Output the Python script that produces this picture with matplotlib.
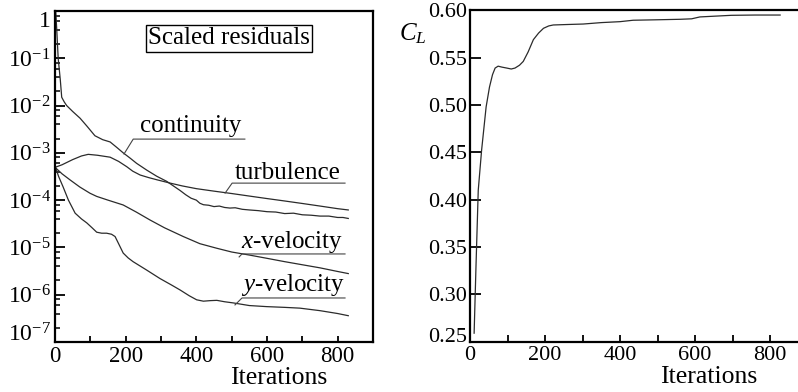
"""Residual history and lift coefficient convergence, two panels."""

import matplotlib.pyplot as plt
from matplotlib.ticker import FixedLocator, FuncFormatter, NullFormatter

plt.rcParams["font.family"] = ["Liberation Serif", "DejaVu Serif"]
plt.rcParams["mathtext.fontset"] = "custom"
plt.rcParams["mathtext.rm"] = "Liberation Serif"
plt.rcParams["mathtext.it"] = "Liberation Serif:italic"

# residual histories (iteration, scaled residual)
continuity_it = [2, 5, 9, 15, 19, 26, 33, 50, 71, 90, 113, 135, 156, 175, 193,
                 212, 231, 260, 288, 316, 335, 354, 370, 385, 400, 410, 420,
                 435, 450, 465, 480, 495, 510, 530, 550, 575, 600, 625, 650,
                 675, 700, 725, 750, 775, 800, 815, 830]
continuity_res = [1.0, 0.4, 0.1, 0.035, 0.015, 0.012, 0.01, 0.0075, 0.0054,
                  0.0037, 0.0023, 0.0019, 0.0017, 0.0013, 0.001, 0.00078,
                  0.0006, 0.00043, 0.00032, 0.00025, 0.0002, 0.00016, 0.00013,
                  0.00011, 0.0001, 8.6e-5, 8.0e-5, 7.8e-5, 7.3e-5, 7.5e-5,
                  7.0e-5, 6.8e-5, 6.9e-5, 6.4e-5, 6.2e-5, 6.0e-5, 5.7e-5,
                  5.6e-5, 5.2e-5, 5.3e-5, 4.9e-5, 4.8e-5, 4.6e-5, 4.6e-5,
                  4.3e-5, 4.3e-5, 4.1e-5]

turbulence_it = [2, 20, 50, 75, 94, 120, 156, 180, 203, 220, 241, 265, 288,
                 325, 360, 400, 450, 500, 550, 600, 650, 700, 750, 800, 830]
turbulence_res = [5.0e-4, 5.6e-4, 7.2e-4, 8.6e-4, 9.3e-4, 8.9e-4, 8.1e-4,
                  6.6e-4, 5.1e-4, 4.1e-4, 3.4e-4, 3.0e-4, 2.7e-4, 2.3e-4,
                  2.0e-4, 1.75e-4, 1.55e-4, 1.38e-4, 1.22e-4, 1.08e-4, 9.6e-5,
                  8.5e-5, 7.5e-5, 6.6e-5, 6.2e-5]

xvel_it = [2, 20, 42, 70, 99, 118, 150, 193, 230, 269, 310, 363, 410, 458,
           500, 550, 599, 650, 700, 750, 800, 830]
xvel_res = [4.8e-4, 3.6e-4, 2.7e-4, 1.9e-4, 1.4e-4, 1.2e-4, 1.0e-4, 7.9e-5,
            5.6e-5, 3.8e-5, 2.6e-5, 1.7e-5, 1.2e-5, 9.6e-6, 8.0e-6, 6.9e-6,
            5.9e-6, 5.0e-6, 4.3e-6, 3.7e-6, 3.1e-6, 2.8e-6]

yvel_it = [2, 10, 23, 38, 57, 75, 90, 105, 118, 132, 146, 160, 170, 180, 193,
           207, 221, 260, 297, 330, 354, 380, 401, 420, 440, 458, 480, 505,
           550, 599, 650, 693, 750, 800, 830]
yvel_res = [4.8e-4, 3.2e-4, 1.9e-4, 1.0e-4, 5.3e-5, 4.0e-5, 3.3e-5, 2.6e-5,
            2.1e-5, 2.0e-5, 2.0e-5, 1.9e-5, 1.7e-5, 1.2e-5, 7.6e-6, 6.0e-6,
            5.0e-6, 3.3e-6, 2.2e-6, 1.6e-6, 1.26e-6, 9.5e-7, 7.8e-7, 7.3e-7,
            7.5e-7, 7.6e-7, 7.1e-7, 6.7e-7, 5.9e-7, 5.6e-7, 5.4e-7, 5.2e-7,
            4.6e-7, 4.0e-7, 3.6e-7]

# lift coefficient history
cl_it = [11, 16, 22, 31, 43, 52, 60, 67, 75, 85, 98, 110, 120, 132, 142, 155,
         169, 183, 196, 210, 222, 260, 302, 350, 400, 435, 500, 560, 591, 613,
         697, 760, 827]
cl_val = [0.259, 0.33, 0.41, 0.4525, 0.498, 0.519, 0.532, 0.539, 0.541, 0.540,
          0.539, 0.538, 0.539, 0.542, 0.546, 0.556, 0.569, 0.576, 0.581,
          0.5835, 0.5845, 0.585, 0.5855, 0.587, 0.588, 0.5895, 0.590, 0.5905,
          0.591, 0.593, 0.5947, 0.595, 0.595]

residual_exponents = [0, -1, -2, -3, -4, -5, -6, -7]
cl_ticks = [0.25, 0.30, 0.35, 0.40, 0.45, 0.50, 0.55, 0.60]

LINE = dict(color="#2b2b2b", linewidth=0.9)


def residual_label(v, _pos):
    for e in residual_exponents:
        if abs(v - 10.0**e) < 1e-3 * 10.0**e:
            return "1" if e == 0 else rf"$10^{{{e}}}$"
    return ""


def annotate(ax, text, xy_text, underline, leader_end):
    """Label with an underline and a short leader line to its curve."""
    ax.text(*xy_text, text, transform=ax.transAxes, ha="center", va="center",
            fontsize=18)
    (x0, x1), y = underline
    ax.plot([leader_end[0], x0, x1], [leader_end[1], y, y], color="#444444",
            linewidth=0.8, transform=ax.transAxes, clip_on=False)


fig = plt.figure(figsize=(7.98, 3.92), dpi=100)
ax1 = fig.add_axes([55 / 798, 50 / 392, 318 / 798, 331 / 392])
ax2 = fig.add_axes([470 / 798, 50.3 / 392, 337.5 / 798, 331.4 / 392])

# left panel: scaled residuals
ax1.semilogy(continuity_it, continuity_res, **LINE)
ax1.semilogy(turbulence_it, turbulence_res, **LINE)
ax1.semilogy(xvel_it, xvel_res, **LINE)
ax1.semilogy(yvel_it, yvel_res, **LINE)
ax1.set_xlim(0, 900)
ax1.set_ylim(1e-7, 1)

major = [10.0**e for e in residual_exponents]
minor = [m * 10.0**e for e in residual_exponents[1:] for m in (2, 4, 6, 8)]
ax1.yaxis.set_major_locator(FixedLocator(major))
ax1.yaxis.set_minor_locator(FixedLocator(minor))
ax1.yaxis.set_major_formatter(FuncFormatter(residual_label))
ax1.yaxis.set_minor_formatter(NullFormatter())
ax1.xaxis.set_major_locator(FixedLocator([0, 200, 400, 600, 800]))
ax1.xaxis.set_minor_locator(FixedLocator([100, 300, 500, 700, 900]))
ax1.tick_params(axis="y", which="major", direction="in", length=7.5,
                width=1.3, labelsize=17, pad=3)
ax1.tick_params(axis="y", which="minor", direction="in", length=3.8,
                width=1.1)
ax1.tick_params(axis="x", which="both", direction="in", length=4.5,
                width=1.3, labelsize=16.5, pad=3)
for spine in ax1.spines.values():
    spine.set_linewidth(1.6)

ylabels = ax1.get_yticklabels()
ylabels[0].set_verticalalignment("top")
ylabels[-1].set_verticalalignment("baseline")

ax1.set_xlabel("Iterations", fontsize=18.5)
ax1.xaxis.label.set_verticalalignment("baseline")
ax1.xaxis.set_label_coords(0.704, -0.127)

ax1.text(0.547, 0.918, "Scaled residuals", transform=ax1.transAxes,
         ha="center", va="center", fontsize=18,
         bbox=dict(boxstyle="square,pad=0.1", fc="white", ec="black",
                   lw=1.0))
annotate(ax1, "continuity", (0.426, 0.653), ((0.246, 0.597), 0.613),
         (0.217, 0.568))
annotate(ax1, "turbulence", (0.731, 0.511), ((0.557, 0.912), 0.480),
         (0.535, 0.450))
annotate(ax1, "$x$-velocity", (0.747, 0.302), ((0.588, 0.912), 0.266),
         (0.579, 0.257))
annotate(ax1, "$y$-velocity", (0.747, 0.172), ((0.588, 0.912), 0.133),
         (0.566, 0.112))

# right panel: lift coefficient
ax2.plot(cl_it, cl_val, **LINE)
ax2.set_xlim(0, 900)
ax2.set_ylim(0.25, 0.60)
ax2.yaxis.set_major_locator(FixedLocator(cl_ticks))
ax2.yaxis.set_major_formatter(FuncFormatter(lambda v, _p: f"{v:.2f}"))
ax2.xaxis.set_major_locator(FixedLocator([0, 200, 400, 600, 800]))
ax2.xaxis.set_minor_locator(FixedLocator([100, 300, 500, 700, 900]))
ax2.tick_params(axis="y", direction="in", length=8, width=1.3,
                labelsize=16, pad=2)
ax2.tick_params(axis="x", which="both", direction="in", length=5,
                width=1.3, labelsize=16, pad=3)
for spine in ax2.spines.values():
    spine.set_linewidth(1.6)
ax2.get_yticklabels()[0].set_verticalalignment("baseline")

ax2.set_xlabel("Iterations", fontsize=18.5)
ax2.xaxis.label.set_verticalalignment("baseline")
ax2.xaxis.set_label_coords(0.708, -0.1255)
ax2.text(-0.169, 0.928, "$C_L$", transform=ax2.transAxes, ha="center",
         va="center", fontsize=18)

fig.savefig("out.png", dpi=100)
plt.close(fig)
